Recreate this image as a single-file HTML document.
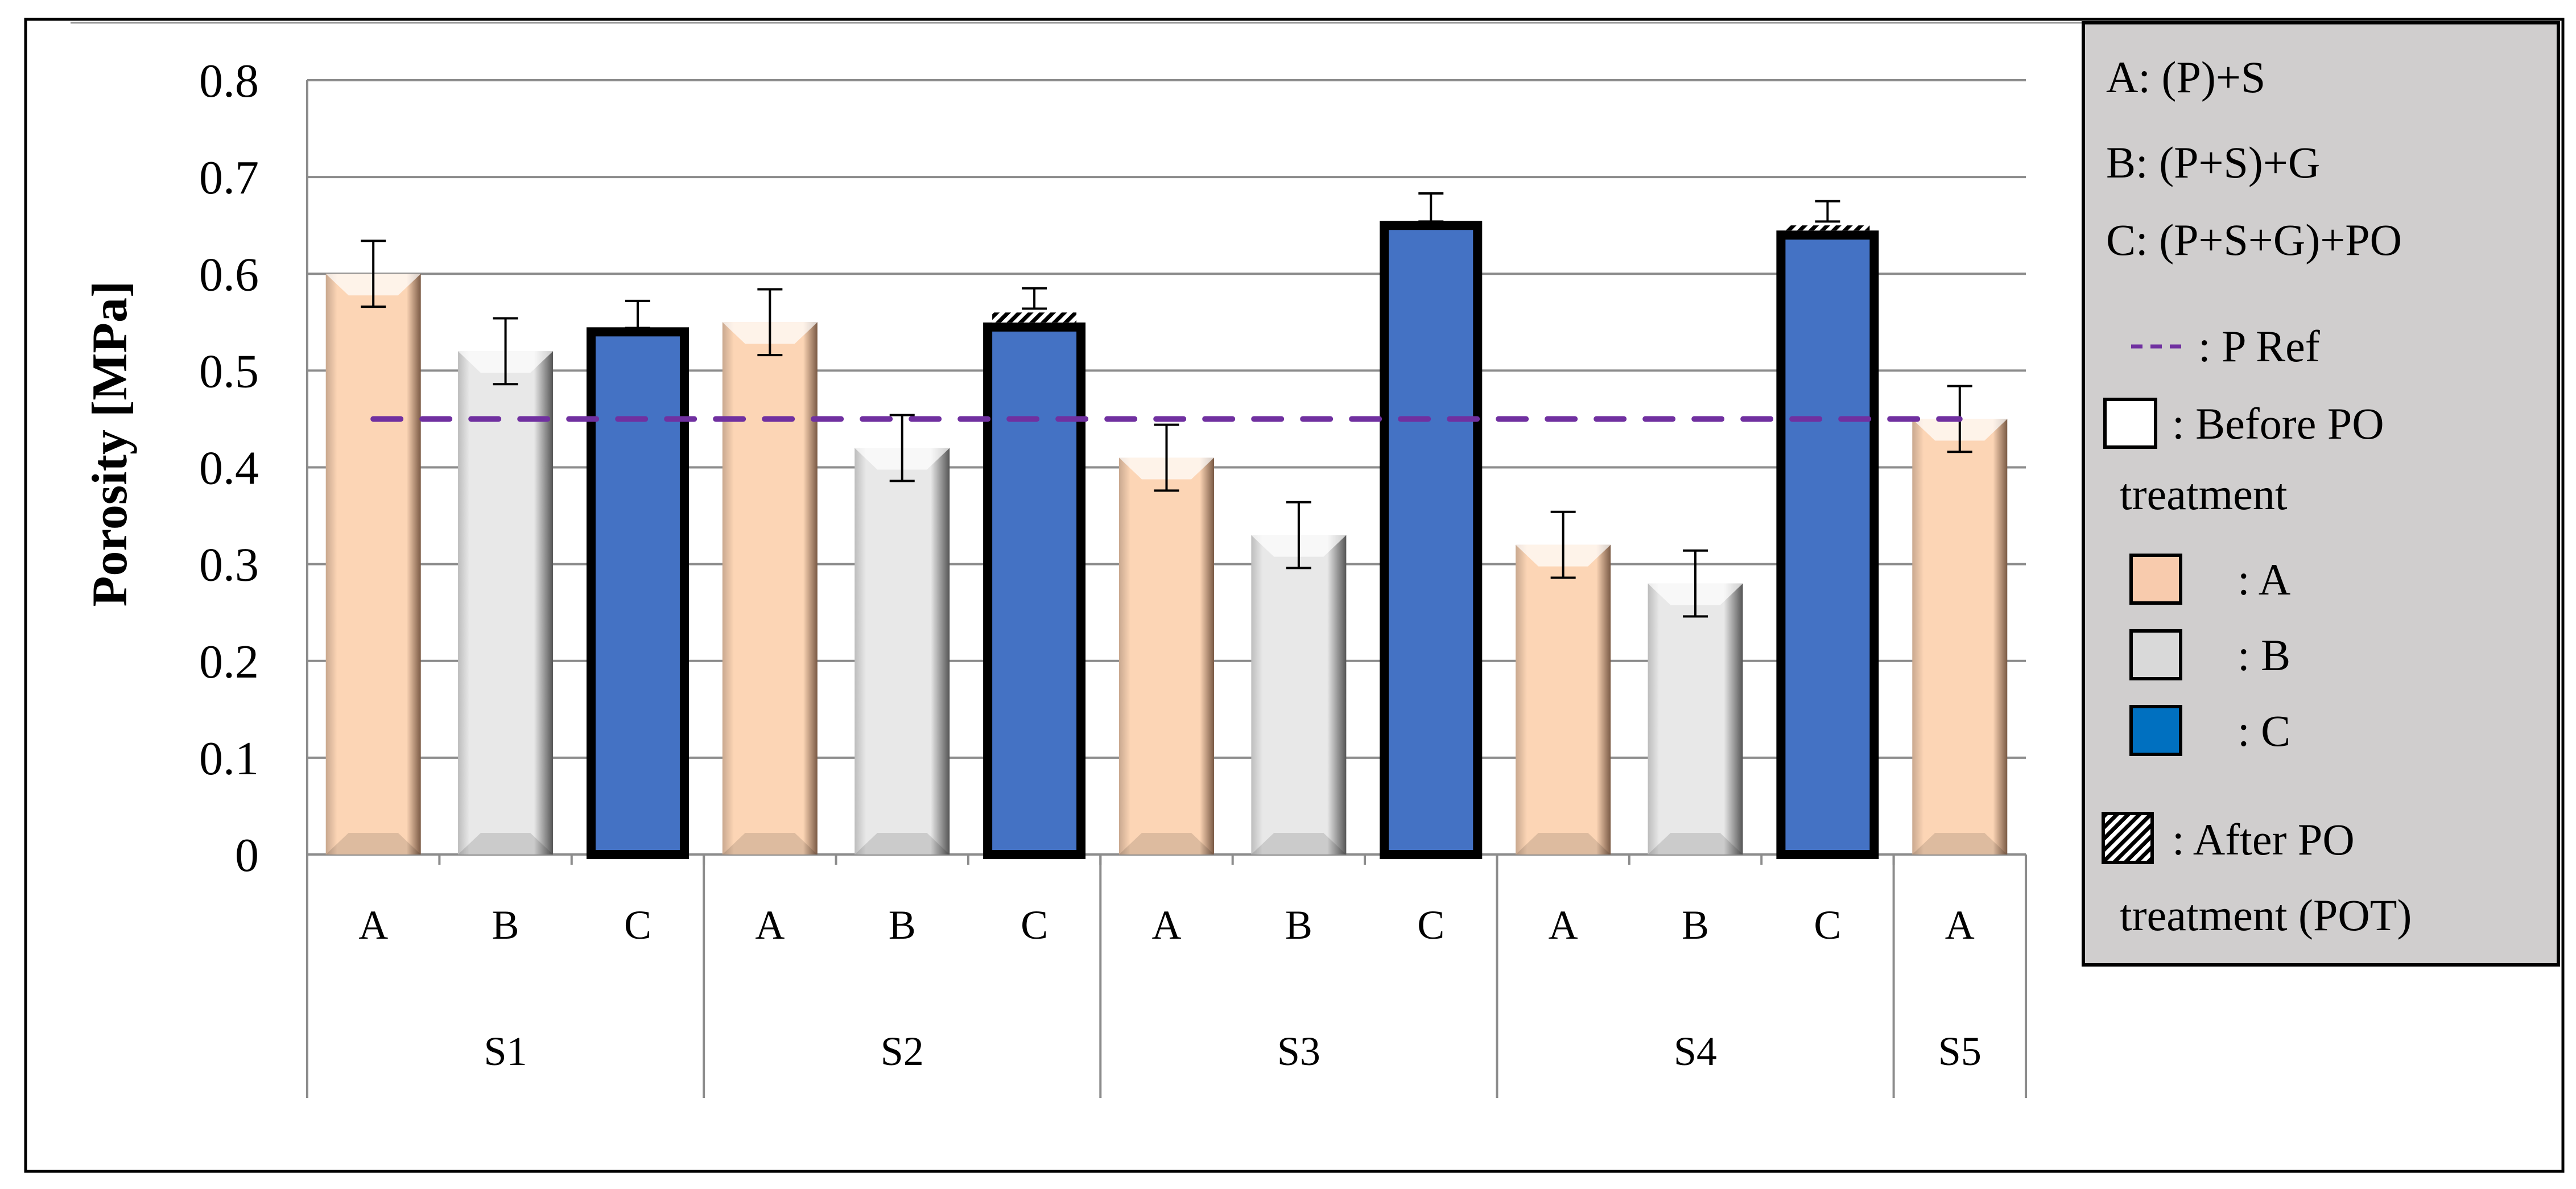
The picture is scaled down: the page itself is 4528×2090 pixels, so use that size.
<!DOCTYPE html>
<html><head><meta charset="utf-8"><style>
html,body{margin:0;padding:0;background:#fff}
svg{display:block}
text{font-family:"Liberation Serif",serif}
</style></head><body>
<svg id="chart" width="4528" height="2090" viewBox="0 0 4528 2090" xmlns="http://www.w3.org/2000/svg">
<defs>
<linearGradient id="gA" x1="0" x2="1" y1="0" y2="0"><stop offset="0" stop-color="#c9a88f"/><stop offset="0.12" stop-color="#fcd5b5"/><stop offset="0.85" stop-color="#fcd5b5"/><stop offset="1" stop-color="#7a5a45"/></linearGradient>
<linearGradient id="gB" x1="0" x2="1" y1="0" y2="0"><stop offset="0" stop-color="#bdbdbd"/><stop offset="0.12" stop-color="#e8e8e8"/><stop offset="0.8" stop-color="#e8e8e8"/><stop offset="1" stop-color="#555"/></linearGradient>
<pattern id="hatch" width="14" height="14" patternUnits="userSpaceOnUse" patternTransform="rotate(45)"><rect width="14" height="14" fill="#fff"/><rect width="7" height="14" fill="#000"/></pattern>
</defs>
<rect x="45" y="34" width="4460" height="2025" fill="none" stroke="#000" stroke-width="5"/>
<line x1="124" y1="40" x2="3662" y2="40" stroke="#999" stroke-width="3"/>
<g id="grid"></g><g id="bars"></g><g id="axis"></g>
<text transform="translate(222,780) rotate(-90)" text-anchor="middle" font-size="88" font-weight="bold">Porosity [MPa]</text>
<g font-size="78">
<rect x="3662" y="40" width="835" height="1656" fill="#d0cece" stroke="#000" stroke-width="6"/>
<text x="3702" y="162">A: (P)+S</text>
<text x="3702" y="312">B: (P+S)+G</text>
<text x="3702" y="448">C: (P+S+G)+PO</text>
<line x1="3746" y1="609" x2="3841" y2="609" stroke="#7030a0" stroke-width="7" stroke-dasharray="20,14"/>
<text x="3864" y="635">: P Ref</text>
<rect x="3700" y="702" width="89" height="84" fill="#fff" stroke="#000" stroke-width="6"/>
<text x="3818" y="771">: Before PO</text>
<text x="3726" y="895">treatment</text>
<rect x="3746" y="976" width="87" height="84" fill="#f8cbad" stroke="#000" stroke-width="6"/>
<text x="3933" y="1045">: A</text>
<rect x="3746" y="1109" width="87" height="84" fill="#d9d9d9" stroke="#000" stroke-width="6"/>
<text x="3933" y="1178">: B</text>
<rect x="3746" y="1242" width="87" height="84" fill="#0070c0" stroke="#000" stroke-width="6"/>
<text x="3933" y="1311">: C</text>
<rect x="3697" y="1430" width="86" height="86" fill="url(#hatch)" stroke="#000" stroke-width="6"/>
<text x="3818" y="1502">: After PO</text>
<text x="3726" y="1635">treatment (POT)</text>
</g>
</svg>
<script>
const cats=["A","B","C","A","B","C","A","B","C","A","B","C","A"];
const groups=["S1","S2","S3","S4","S5"];
const groupSizes=[3,3,3,3,1];
const values=[0.60,0.52,0.54,0.55,0.42,0.545,0.41,0.33,0.65,0.32,0.28,0.64,0.45];
const potValues=[0.60,0.52,0.54,0.55,0.42,0.56,0.41,0.33,0.65,0.32,0.28,0.65,0.45];
const errors=[0.034,0.034,0.032,0.034,0.034,0.025,0.034,0.034,0.033,0.034,0.034,0.025,0.034];
const yTicks=[0,0.1,0.2,0.3,0.4,0.5,0.6,0.7,0.8];
const pRef=0.45;
const NS="http://www.w3.org/2000/svg";
const X0=540,X1=3561,Y0=1502,Y8=141;
const cw=(X1-X0)/cats.length;
const y=v=>Y0-(v/0.8)*(Y0-Y8);
const xc=i=>X0+cw*(i+0.5);
function mk(tag,attrs,parent){const e=document.createElementNS(NS,tag);for(const k in attrs)e.setAttribute(k,attrs[k]);document.getElementById(parent).appendChild(e);return e;}
yTicks.forEach(t=>{
 const l=mk('line',{x1:X0,x2:X1,y1:y(t),y2:y(t),stroke:'#8c8c8c','stroke-width':4},'grid');
 
 
 const tx=mk('text',{x:455,y:y(t)+29,'text-anchor':'end','font-size':84},'axis');tx.textContent=t===0?'0':t.toFixed(1);
 
 
});
mk('line',{x1:X0,x2:X0,y1:Y8,y2:1930,stroke:'#8c8c8c','stroke-width':4},'grid');
cats.forEach((c,i)=>{
 const cx=xc(i),bw=167;
 const top=Math.max(values[i],potValues[i]);
 if(c==='C'){
  const r=mk('rect',{x:cx-82,y:y(values[i]),width:164,height:Y0-y(values[i]),fill:'#4472c4',stroke:'#000','stroke-width':16},'bars');
  
  
  if(potValues[i]>values[i]){
   const h=mk('rect',{x:cx-74,y:y(potValues[i]),width:148,height:y(values[i])-y(potValues[i])-8,fill:'url(#hatch)'},'bars');
   
   
  }
 } else {
  const r=mk('rect',{x:cx-bw/2,y:y(values[i]),width:bw,height:Y0-y(values[i]),fill:c==='A'?'url(#gA)':'url(#gB)'},'bars');
  
  
  const hl=mk('path',{d:`M${cx-bw/2} ${y(values[i])} h${bw} l-40 38 h${-bw+80} z`,fill:'#fff',opacity:0.7},'bars');
  
  
  const bl=mk('path',{d:`M${cx-bw/2} ${Y0} h${bw} l-40 -38 h${-bw+80} z`,fill:'#000',opacity:0.12},'bars');
  
  
 }
 const lo=c==='C'?top+0.004:values[i]-errors[i];
 const hi=c==='C'?top+errors[i]:values[i]+errors[i];
 const eb=mk('path',{d:`M${cx} ${y(lo)}V${y(hi)}M${cx-22} ${y(lo)}h44M${cx-22} ${y(hi)}h44`,stroke:'#000','stroke-width':4,fill:'none'},'bars');
 
 
 const lt=mk('text',{x:cx,y:1650,'text-anchor':'middle','font-size':72},'axis');lt.textContent=c;
 
 
 const tk=mk('line',{x1:X0+cw*(i+1),x2:X0+cw*(i+1),y1:Y0,y2:Y0+18,stroke:'#8c8c8c','stroke-width':4},'grid');
 
 
});
let idx=0;
groups.forEach((g,k)=>{
 const s=idx;idx+=groupSizes[k];
 const ex=X0+cw*idx;
 const sep=mk('line',{x1:ex,x2:ex,y1:Y0,y2:1930,stroke:'#8c8c8c','stroke-width':4},'grid');
 
 
 const gt=mk('text',{x:X0+cw*(s+idx)/2,y:1872,'text-anchor':'middle','font-size':72},'axis');gt.textContent=g;
 
 
});
const pl=mk('line',{x1:xc(0),x2:xc(cats.length-1),y1:y(pRef),y2:y(pRef),stroke:'#7030a0','stroke-width':10,'stroke-dasharray':'48,38','stroke-linecap':'round'},'bars');


</script>
</body></html>
